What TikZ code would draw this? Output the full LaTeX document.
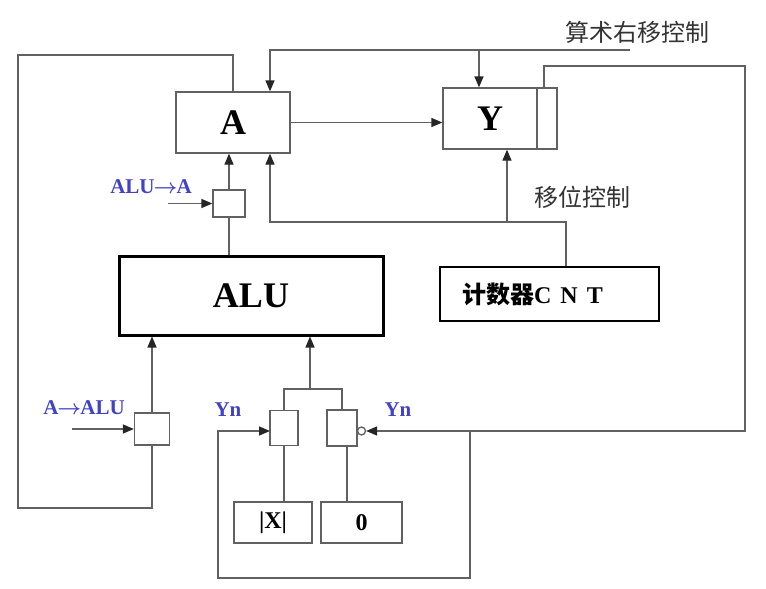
\documentclass[tikz,border=0pt]{standalone}
\usepackage{fontspec}
\setmainfont{Liberation Serif}
\newfontfamily\cjk{Noto Sans CJK SC}
\usepackage{tikz}
\usetikzlibrary{arrows.meta,calc}

\begin{document}
\begin{tikzpicture}[x=1pt,y=-1pt,line join=miter]
  % Local definitions
  \def\toarrow{\hspace{-1pt}{\boldmath$\rightarrow$}\hspace{-1pt}}

  % Colors
  \definecolor{wirecolor}{gray}{0.38}
  \definecolor{signalcolor}{rgb}{0.26,0.26,0.78}

  % Styles
  \tikzstyle{wire}=[draw=wirecolor,line width=1.3pt]
  \tikzstyle{arr}=[wire,-{Triangle[length=11pt,width=9pt,color=black!85]}]
  \tikzstyle{reg}=[draw=wirecolor,line width=1.3pt,minimum width=114pt,minimum height=61pt,inner sep=0pt,font=\fontsize{36}{40}\selectfont\bfseries]
  \tikzstyle{gate}=[draw=wirecolor,line width=1.3pt,inner sep=0pt]
  \tikzstyle{operand}=[draw=wirecolor,line width=1.3pt,inner sep=0pt,minimum height=41pt,font=\fontsize{24}{26}\selectfont\bfseries]
  \tikzstyle{signal}=[text=signalcolor,inner sep=0pt,font=\fontsize{21}{23}\selectfont\bfseries]
  \tikzstyle{ctltext}=[text=black!80,inner sep=0pt,font=\fontsize{24}{26}\selectfont\cjk]

  % Frame
  \fill[white] (0,0) rectangle (766,589);
  \useasboundingbox (0,0) rectangle (766,589);

  % Registers
  \node[reg] (A) at (233,122.5) {A};
  \node[reg,minimum width=94pt] (Y) at (490,118.5) {Y};
  \node[gate,minimum width=20pt,minimum height=61pt] (ycell) at (547,118.5) {};
  \node[reg,line width=3pt,draw=black,minimum width=264pt,minimum height=79pt] (alu) at (251,295.5) {ALU};
  \node[reg,line width=2.6pt,draw=black,minimum width=219pt,minimum height=54pt,font=\fontsize{24}{26}\selectfont\bfseries] (cnt) at (549.5,294)
    {\hspace*{-34pt}{\cjk 计数器}C\hspace{9pt}N\hspace{9pt}T};

  % Gates
  \node[gate,minimum width=32pt,minimum height=27pt] (gA) at (229,203.5) {};
  \node[gate,minimum width=35pt,minimum height=32pt] (gALU) at (152,429) {};
  \node[gate,minimum width=28pt,minimum height=35pt] (gX) at (284,428) {};
  \node[gate,minimum width=30pt,minimum height=36pt] (gZ) at (342,428) {};
  \node[gate,circle,minimum size=8pt] (inv) at (361.5,431) {};

  % Operands
  \node[operand,minimum width=78pt] (absX) at (273,522.5) {|X|};
  \node[operand,minimum width=81pt] (zero) at (361.5,522.5) {0};

  % Labels
  \node[signal] (lblAluA) at (151,187) {ALU\toarrow A};
  \node[signal] (lblAAlu) at (84,408) {A\toarrow ALU};
  \node[signal] (lblYnX) at (228,410) {Yn};
  \node[signal] (lblYnZ) at (398,410) {Yn};
  \node[ctltext] (lblSar) at (637,32) {算术右移控制};
  \node[ctltext] (lblShift) at (582,197) {移位控制};

  % Coordinates
  \coordinate (sarEnd) at (630,50);
  \coordinate (sarA) at (270,50);
  \coordinate (sarY) at (479,50);
  \coordinate (shCnt) at (566,222);
  \coordinate (shA) at (270,222);
  \coordinate (shY) at (507,222);
  \coordinate (mux) at (310,389);
  \coordinate (ynSplit) at (470,431);
  \coordinate (ynX) at (270,431);

  % Data paths
  \draw[arr] (A.east) -- (A.east -| Y.west);
  \draw[wire] (A.north) |- (18,55) |- (gALU.south |- 0,508) -- (gALU.south);
  \draw[arr] (gALU.north) -- (gALU.north |- alu.south);
  \draw[wire] (alu.north -| gA.south) -- (gA.south);
  \draw[arr] (gA.north) -- (gA.north |- A.south);
  \draw[wire] (gX.north) |- (gZ.north |- mux) -- (gZ.north);
  \draw[arr] (mux) -- (mux |- alu.south);
  \draw[wire] (gX.south) -- (gX.south |- absX.north);
  \draw[wire] (gZ.south -| 347,0) -- (zero.north -| 347,0);

  % Control lines
  \draw[arr] (sarEnd) -- (sarA) -- (sarA |- A.north);
  \draw[arr] (sarY) -- (sarY |- Y.north);
  \draw[arr] (cnt.north -| shCnt) -- (shCnt) -- (shA) -- (shA |- A.south);
  \draw[arr] (shY) -- (shY |- Y.south);
  \draw[arr] (168,203.5) -- (gA.west);
  \draw[arr] (72,429) -- (gALU.west);
  \draw[arr] (ycell.north -| 544,0) |- (745,66) |- (inv.east);
  \draw[arr] (ynSplit) |- (218,578) |- (ynX);

\end{tikzpicture}
\end{document}
